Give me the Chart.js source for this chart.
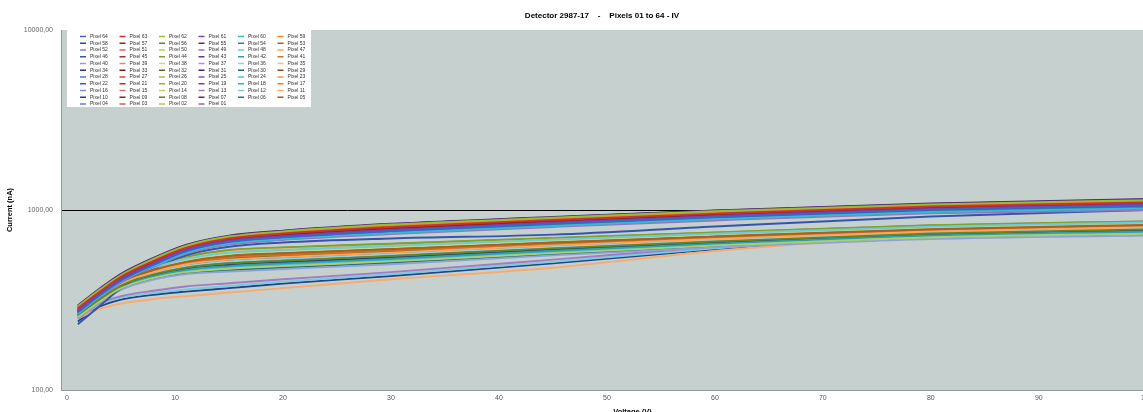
<!DOCTYPE html>
<html>
<head>
<meta charset="utf-8">
<title>Detector 2987-17 - Pixels 01 to 64 - IV</title>
<script src="https://cdn.jsdelivr.net/npm/chart.js@4.4.1/dist/chart.umd.min.js"></script>
<style>
    html, body { margin: 0; padding: 0; background: #fff; overflow: hidden; }
    #wrap { width: 1204px; height: 418px; }
</style>
</head>
<body>
<div id="wrap"><canvas id="ivChart" width="1204" height="418"></canvas></div>
<script>
// Detector 2987-17 - IV curves of pixels 01..64

// Voltage steps of the sweep (V)
var voltages = [1, 3, 5, 8, 11, 15, 20, 30, 45, 60, 80, 100];

// Current per pixel (nA), one value per voltage step
var px64 = [270, 335, 405, 495, 590, 665, 705, 765, 840, 915, 1005, 1060];
var px63 = [285, 350, 425, 520, 615, 695, 740, 805, 880, 955, 1045, 1100];
var px62 = [292, 360, 435, 535, 632, 712, 760, 830, 905, 985, 1075, 1135];
var px61 = [278, 342, 415, 505, 600, 675, 715, 775, 850, 925, 1015, 1070];
var px60 = [265, 330, 400, 488, 578, 650, 690, 745, 815, 890, 975, 1020];
var px59 = [288, 355, 430, 528, 625, 705, 752, 820, 895, 972, 1062, 1120];
var px58 = [274, 338, 410, 500, 596, 672, 712, 772, 845, 920, 1010, 1065];
var px57 = [281, 347, 420, 512, 608, 688, 730, 792, 866, 942, 1032, 1088];
var px56 = [262, 318, 380, 438, 478, 505, 522, 555, 612, 668, 740, 780];
var px55 = [295, 365, 442, 542, 640, 720, 768, 838, 915, 995, 1088, 1150];
var px54 = [268, 332, 402, 490, 582, 655, 695, 752, 825, 900, 985, 1035];
var px53 = [275, 334, 400, 465, 515, 555, 575, 605, 660, 712, 782, 825];
var px52 = [283, 349, 423, 516, 612, 692, 736, 800, 874, 950, 1040, 1095];
var px51 = [276, 340, 412, 502, 598, 676, 718, 780, 855, 930, 1020, 1078];
var px50 = [255, 310, 368, 420, 452, 472, 488, 518, 576, 634, 704, 738];
var px49 = [262, 325, 395, 482, 570, 642, 682, 735, 805, 875, 958, 998];
var px48 = [280, 340, 410, 478, 535, 580, 600, 632, 685, 738, 808, 852];
var px47 = [268, 326, 390, 452, 498, 530, 548, 580, 636, 690, 760, 802];
var px46 = [232, 292, 368, 470, 560, 625, 660, 695, 730, 810, 920, 1000];
var px45 = [290, 358, 433, 532, 630, 710, 756, 826, 902, 980, 1070, 1128];
var px44 = [285, 345, 420, 490, 550, 600, 620, 650, 700, 750, 822, 865];
var px43 = [272, 336, 407, 497, 592, 668, 708, 768, 842, 917, 1007, 1062];
var px42 = [258, 314, 374, 428, 465, 488, 505, 536, 594, 650, 722, 760];
var px41 = [272, 330, 396, 460, 508, 545, 564, 595, 650, 703, 772, 815];
var px40 = [250, 305, 360, 410, 440, 455, 470, 500, 560, 620, 690, 722];
var px39 = [286, 352, 427, 524, 620, 700, 745, 812, 888, 965, 1055, 1112];
var px38 = [278, 338, 406, 472, 526, 568, 588, 620, 674, 727, 797, 840];
var px37 = [279, 344, 417, 508, 604, 682, 724, 786, 860, 936, 1026, 1082];
var px36 = [265, 322, 385, 445, 488, 518, 535, 568, 624, 680, 750, 792];
var px35 = [282, 342, 414, 484, 542, 590, 610, 641, 692, 744, 815, 858];
var px34 = [260, 316, 377, 433, 471, 496, 513, 545, 603, 659, 731, 770];
var px33 = [266, 329, 398, 486, 575, 648, 688, 742, 812, 885, 970, 1015];
var px32 = [270, 328, 393, 456, 503, 538, 556, 588, 643, 697, 766, 808];
var px31 = [293, 362, 438, 538, 636, 716, 764, 834, 910, 990, 1082, 1142];
var px30 = [253, 308, 364, 415, 446, 463, 479, 509, 568, 627, 697, 730];
var px29 = [277, 336, 403, 468, 520, 561, 581, 612, 667, 720, 790, 832];
var px28 = [264, 320, 383, 442, 484, 513, 530, 563, 619, 675, 745, 786];
var px27 = [275, 339, 411, 501, 597, 674, 716, 778, 852, 927, 1018, 1074];
var px26 = [273, 332, 398, 462, 511, 549, 568, 600, 655, 708, 777, 820];
var px25 = [284, 351, 424, 518, 614, 694, 738, 803, 877, 952, 1043, 1098];
var px24 = [257, 312, 371, 424, 459, 480, 497, 527, 585, 642, 713, 750];
var px23 = [283, 343, 416, 486, 546, 595, 615, 646, 696, 747, 818, 861];
var px22 = [267, 324, 388, 448, 493, 524, 542, 574, 630, 685, 755, 797];
var px21 = [269, 334, 404, 492, 586, 660, 700, 758, 832, 908, 995, 1048];
var px20 = [279, 339, 408, 475, 530, 574, 594, 626, 680, 732, 802, 846];
var px19 = [280, 346, 418, 510, 606, 685, 727, 789, 863, 939, 1029, 1085];
var px18 = [261, 317, 378, 435, 474, 500, 517, 550, 608, 664, 735, 775];
var px17 = [271, 329, 394, 458, 505, 541, 560, 592, 647, 700, 769, 812];
var px16 = [256, 311, 370, 423, 456, 477, 493, 523, 581, 638, 709, 745];
var px15 = [276, 335, 402, 466, 518, 558, 578, 609, 664, 716, 786, 829];
var px14 = [263, 319, 381, 440, 481, 509, 526, 559, 616, 671, 742, 783];
var px13 = [248, 302, 332, 356, 376, 392, 412, 452, 530, 625, 752, 800];
var px12 = [255, 300, 326, 346, 362, 378, 400, 440, 515, 612, 732, 780];
var px11 = [250, 282, 302, 320, 332, 348, 368, 412, 478, 592, 720, 770];
var px10 = [240, 290, 318, 338, 352, 368, 390, 430, 505, 605, 740, 790];
var px09 = [281, 341, 412, 481, 538, 585, 605, 637, 688, 741, 812, 855];
var px08 = [259, 315, 375, 431, 468, 492, 509, 540, 598, 654, 726, 765];
var px07 = [274, 333, 399, 463, 513, 552, 571, 602, 657, 710, 779, 822];
var px06 = [266, 323, 386, 446, 490, 521, 538, 571, 627, 682, 752, 795];
var px05 = [254, 309, 366, 418, 449, 468, 484, 514, 572, 630, 700, 734];
var px04 = [284, 344, 418, 488, 548, 597, 617, 648, 698, 749, 820, 863];
var px03 = [269, 327, 391, 454, 500, 534, 552, 584, 640, 694, 763, 805];
var px02 = [278, 337, 405, 470, 523, 565, 585, 616, 671, 724, 794, 836];
var px01 = [262, 318, 379, 436, 476, 502, 519, 552, 610, 666, 738, 778];

var pixelLabels = [
    'Pixel 64', 'Pixel 63', 'Pixel 62', 'Pixel 61', 'Pixel 60', 'Pixel 59', 'Pixel 58', 'Pixel 57',
    'Pixel 56', 'Pixel 55', 'Pixel 54', 'Pixel 53', 'Pixel 52', 'Pixel 51', 'Pixel 50', 'Pixel 49',
    'Pixel 48', 'Pixel 47', 'Pixel 46', 'Pixel 45', 'Pixel 44', 'Pixel 43', 'Pixel 42', 'Pixel 41',
    'Pixel 40', 'Pixel 39', 'Pixel 38', 'Pixel 37', 'Pixel 36', 'Pixel 35', 'Pixel 34', 'Pixel 33',
    'Pixel 32', 'Pixel 31', 'Pixel 30', 'Pixel 29', 'Pixel 28', 'Pixel 27', 'Pixel 26', 'Pixel 25',
    'Pixel 24', 'Pixel 23', 'Pixel 22', 'Pixel 21', 'Pixel 20', 'Pixel 19', 'Pixel 18', 'Pixel 17',
    'Pixel 16', 'Pixel 15', 'Pixel 14', 'Pixel 13', 'Pixel 12', 'Pixel 11', 'Pixel 10', 'Pixel 09',
    'Pixel 08', 'Pixel 07', 'Pixel 06', 'Pixel 05', 'Pixel 04', 'Pixel 03', 'Pixel 02', 'Pixel 01'
];
var pixelCurrents = [
    px64, px63, px62, px61, px60, px59, px58, px57, px56, px55, px54, px53, px52, px51, px50, px49,
    px48, px47, px46, px45, px44, px43, px42, px41, px40, px39, px38, px37, px36, px35, px34, px33,
    px32, px31, px30, px29, px28, px27, px26, px25, px24, px23, px22, px21, px20, px19, px18, px17,
    px16, px15, px14, px13, px12, px11, px10, px09, px08, px07, px06, px05, px04, px03, px02, px01
];

// Axis ticks
var xTicks = [0, 10, 20, 30, 40, 50, 60, 70, 80, 90, 100];
var yTicks = [100, 1000, 10000];

var fontFamily = "'Liberation Sans', Arial, sans-serif";

// Office-like series palette, shaded per cycle of 6
var baseColors = [[60, 100, 205], [205, 50, 50], [150, 190, 50], [125, 65, 170], [55, 185, 210], [245, 135, 45]];
var cycleShade = [0, -0.3, 0.25, -0.15, 0.4, -0.45, 0.1, -0.05, 0.3, -0.35, 0.18];

function seriesColor(i) {
    var c = baseColors[i % 6];
    var f = cycleShade[Math.floor(i / 6)];
    var rgb = c.map(function (v) {
        return Math.round(f < 0 ? v * (1 + f) : v + (255 - v) * f);
    });
    return 'rgb(' + rgb.join(',') + ')';
}

var datasets = pixelCurrents.map(function (values, i) {
    return {
        label: pixelLabels[i],
        data: values.map(function (v, k) { return { x: voltages[k], y: v }; }),
        borderColor: seriesColor(i),
        backgroundColor: seriesColor(i),
        borderWidth: 1.9,
        pointRadius: 0,
        cubicInterpolationMode: 'monotone',
        fill: false
    };
});

// Gray plot area
var plotBackground = {
    id: 'plotBackground',
    beforeDraw: function (chart) {
        var a = chart.chartArea;
        var ctx = chart.ctx;
        ctx.save();
        ctx.fillStyle = '#c6d1cf';
        ctx.fillRect(a.left, a.top, a.right - a.left, a.bottom - a.top);
        ctx.restore();
    }
};

// Legend box inside the plot: 6 columns, row by row
var gridLegend = {
    id: 'gridLegend',
    afterDraw: function (chart) {
        var a = chart.chartArea;
        var ctx = chart.ctx;
        var cols = 6, colW = 39.5, rowH = 6.75;
        var boxX = a.left + 6, boxY = a.top - 1;
        ctx.save();
        ctx.fillStyle = '#ffffff';
        ctx.fillRect(boxX, boxY, 244, 78);
        ctx.font = '5px ' + fontFamily;
        ctx.textBaseline = 'middle';
        chart.data.datasets.forEach(function (ds, i) {
            var col = i % cols, row = Math.floor(i / cols);
            var lx = boxX + 13 + col * colW;
            var ly = boxY + 7.5 + row * rowH;
            ctx.strokeStyle = ds.borderColor;
            ctx.lineWidth = 1.5;
            ctx.beginPath();
            ctx.moveTo(lx, ly);
            ctx.lineTo(lx + 6, ly);
            ctx.stroke();
            ctx.fillStyle = '#333';
            ctx.fillText(ds.label, lx + 10, ly);
        });
        ctx.restore();
    }
};

new Chart(document.getElementById('ivChart').getContext('2d'), {
    type: 'line',
    data: { datasets: datasets },
    options: {
        responsive: false,
        animation: false,
        events: [],
        layout: { padding: 0 },
        plugins: {
            legend: { display: false },
            tooltip: { enabled: false },
            title: {
                display: true,
                text: 'Detector 2987-17    -    Pixels 01 to 64 - IV',
                color: '#000',
                font: { family: fontFamily, size: 8, weight: 'bold' },
                padding: { top: 10.7, bottom: 9.7 }
            }
        },
        scales: {
            x: {
                type: 'linear',
                min: -0.56,
                max: 105.3,
                afterBuildTicks: function (s) {
                    s.ticks = xTicks.map(function (v) { return { value: v }; });
                },
                afterFit: function (s) { s.height = 28; },
                grid: { display: false, drawTicks: false },
                border: { display: true, color: '#8f9a99', width: 1 },
                ticks: {
                    color: '#555',
                    font: { family: fontFamily, size: 7 },
                    padding: 4,
                    maxRotation: 0,
                    autoSkip: false
                },
                title: {
                    display: true,
                    text: 'Voltage (V)',
                    color: '#000',
                    font: { family: fontFamily, size: 7.5, weight: 'bold' },
                    padding: { top: 2, bottom: 2 }
                }
            },
            y: {
                type: 'logarithmic',
                min: 100,
                max: 10000,
                afterBuildTicks: function (s) {
                    s.ticks = yTicks.map(function (v) { return { value: v }; });
                },
                afterFit: function (s) { s.width = 61; },
                grid: {
                    drawTicks: false,
                    lineWidth: 1,
                    color: function (ctx) {
                        return ctx.tick && ctx.tick.value === 1000 ? '#000' : 'rgba(0,0,0,0)';
                    }
                },
                border: { display: true, color: '#8f9a99', width: 1 },
                ticks: {
                    color: '#666',
                    font: { family: fontFamily, size: 7 },
                    padding: 8,
                    callback: function (v) { return Number(v).toFixed(2).replace('.', ','); }
                },
                title: {
                    display: true,
                    text: 'Current (nA)',
                    color: '#000',
                    font: { family: fontFamily, size: 7.5, weight: 'bold' },
                    padding: { top: 5.5, bottom: 4 }
                }
            }
        }
    },
    plugins: [plotBackground, gridLegend]
});
</script>
</body>
</html>
